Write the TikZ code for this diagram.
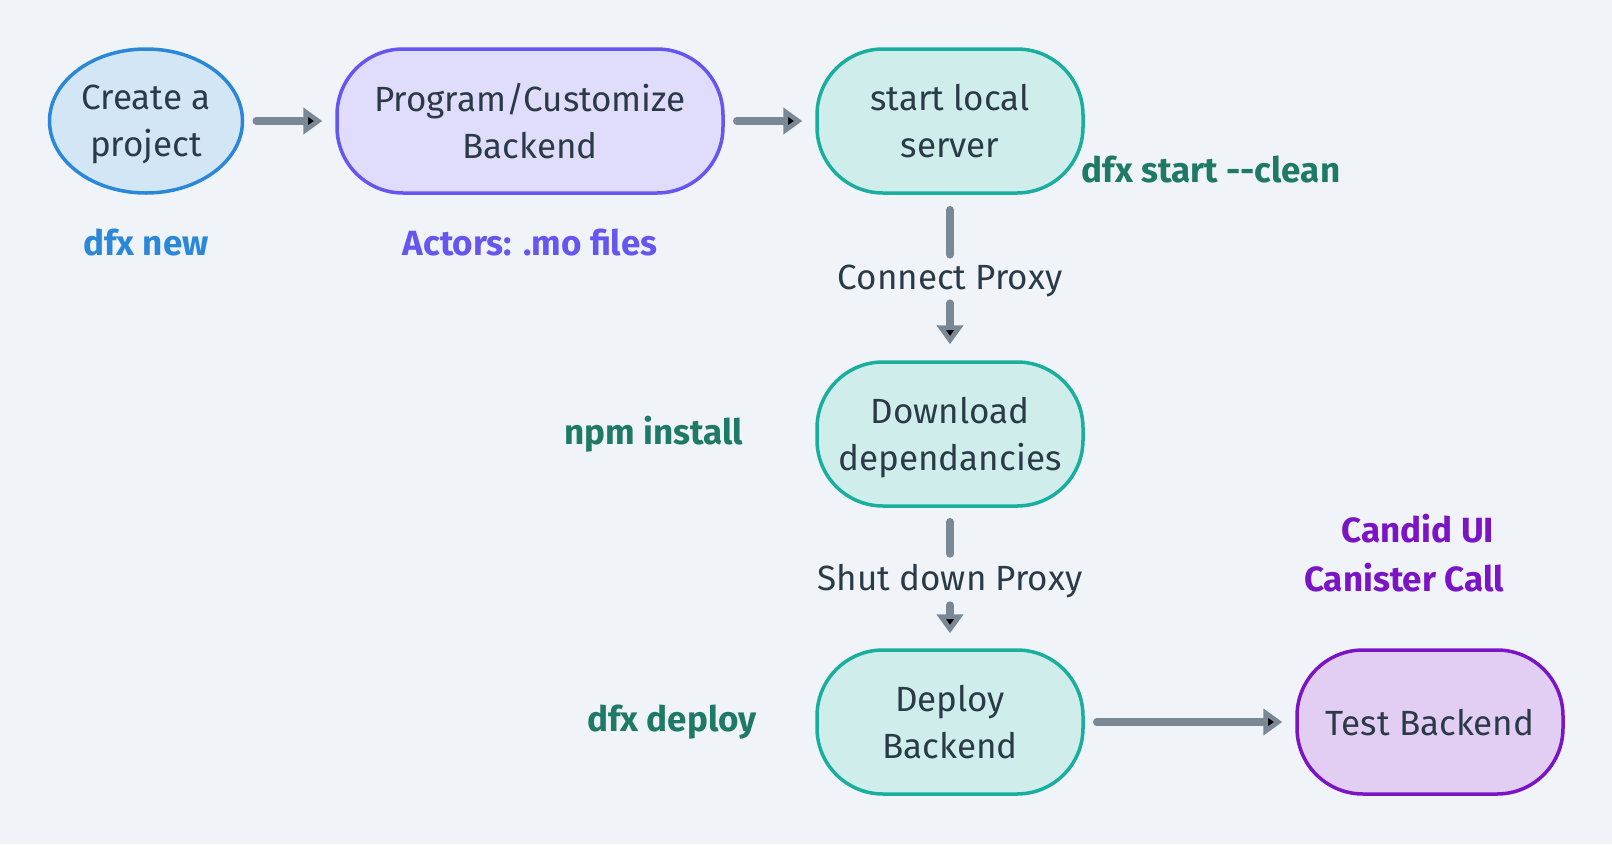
\documentclass[tikz,border=0pt]{standalone}
\usepackage{fontspec}
\setmainfont{Fira Sans}
\usetikzlibrary{arrows.meta,shapes.geometric,positioning}

\definecolor{bgcol}{HTML}{F0F4F8}
\definecolor{txtcol}{HTML}{2B3A47}
\definecolor{linkcol}{HTML}{7A8896}
\definecolor{bluefill}{HTML}{D3E6F6}
\definecolor{blueline}{HTML}{2B88D8}
\definecolor{violetfill}{HTML}{E0DCFB}
\definecolor{violetline}{HTML}{6655EE}
\definecolor{tealfill}{HTML}{CFEDEB}
\definecolor{tealline}{HTML}{1AAE9F}
\definecolor{tealtext}{HTML}{1E7A66}
\definecolor{purplefill}{HTML}{E2CEF2}
\definecolor{purpleline}{HTML}{7A14C4}

\tikzset{
  stage/.style={draw, line width=3.5pt, align=center, text=txtcol,
    minimum height=144pt, inner sep=0pt, text depth=0pt,
    font=\fontsize{35}{47}\selectfont},
  pill/.style={stage, rectangle, rounded corners=66pt},
  cmd/.style={font=\fontsize{35}{47}\selectfont\bfseries, align=center},
  note/.style={text=txtcol, inner sep=0pt, font=\fontsize{35}{47}\selectfont},
  flow/.style={draw=linkcol, line width=7.5pt, line cap=round,
    -{Triangle[length=19pt,width=26pt]}, shorten <=12pt, shorten >=13pt},
  link/.style={draw=linkcol, line width=7.5pt, line cap=round}
}

\begin{document}
\begin{tikzpicture}[x=1pt,y=-1pt,node distance=100pt,on grid]
	\fill[bgcol] (0,0) rectangle (1612,844);
	\useasboundingbox (0,0) rectangle (1612,844);

	\node[stage, ellipse, fill=bluefill, draw=blueline, minimum width=193pt]
		(create) at (146,121) {Create a\\project};
	\node[pill, fill=violetfill, draw=violetline, minimum width=386pt]
		(program) [right=384pt of create] {Program/Customize\\Backend};
	\node[pill, fill=tealfill, draw=tealline, minimum width=266pt]
		(server) [right=420pt of program] {start local\\server};
	\node[pill, fill=tealfill, draw=tealline, minimum width=266pt]
		(download) [below=313pt of server] {Download\\dependancies};
	\node[pill, fill=tealfill, draw=tealline, minimum width=266pt]
		(deploy) [below=288pt of download] {Deploy\\Backend};
	\node[pill, fill=purplefill, draw=purpleline, minimum width=266pt]
		(test) [right=480pt of deploy] {Test Backend};

	% commands
	\node[cmd, text=blueline] (dfxnew) [below=122pt of create] {dfx new};
	\node[cmd, text=violetline] (actors) [below=122pt of program] {Actors: .mo files};
	\node[cmd, text=tealtext] (clean) [below right=49pt and 261pt of server] {dfx start -{}-clean};
	\node[cmd, text=tealtext] (npm) [left=296pt of download] {npm install};
	\node[cmd, text=tealtext] (dfxdeploy) [left=278pt of deploy] {dfx deploy};
	\node[cmd, text=purpleline] (candid) [above left=193pt and 12pt of test] {Candid UI};
	\node[cmd, text=purpleline] (canister) [above left=144pt and 26pt of test] {Canister Call};

	% proxy steps
	\node[note] (connect) [below=160pt of server] {Connect Proxy};
	\node[note] (shut) [below=147pt of download] {Shut down Proxy};

\path[link]
	(server)	edge[shorten <=15pt, shorten >=10pt]	(connect)
	(download)	edge[shorten <=14pt, shorten >=10pt]	(shut)
;
\path[flow]
	(create)	edge	(program)
	(program)	edge	(server)
	(connect)	edge[shorten <=6pt, shorten >=16pt]	(download)
	(shut)		edge[shorten <=7pt, shorten >=15pt]	(deploy)
	(deploy)	edge	(test)
;
\end{tikzpicture}
\end{document}
